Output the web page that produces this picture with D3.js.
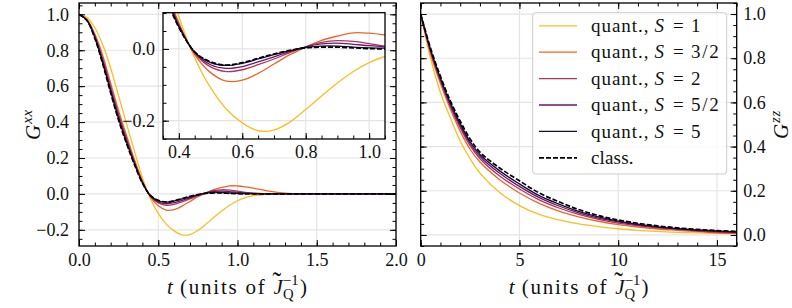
<!DOCTYPE html>
<html lang="en">
<head>
<meta charset="UTF-8">
<title>G^xx and G^zz correlation functions</title>
<style>
  body { margin: 0; background: #fff; }
</style>
</head>
<body>
<svg id="chart" width="792" height="308"></svg>

<script src="https://cdn.jsdelivr.net/npm/d3@7"></script>
<script>
// ---- data ----
// left panel: G^xx against t
const tXX = [0, 0.05, 0.1, 0.15, 0.2, 0.25, 0.3, 0.35, 0.4, 0.45, 0.5, 0.55, 0.6, 0.65, 0.7,
             0.75, 0.8, 0.85, 0.9, 0.95, 1.0, 1.05, 1.1, 1.2, 1.3, 1.4, 1.6, 1.8, 2.0];
const gxxS1  = [1.0, 0.982, 0.925, 0.83, 0.70, 0.545, 0.39, 0.238, 0.09, -0.025, -0.108, -0.168, -0.206, -0.228, -0.226,
                -0.204, -0.169, -0.131, -0.095, -0.063, -0.038, -0.021, -0.010, -0.002, 0, 0, 0, 0, 0];
const gxxS32 = [1.0, 0.972, 0.89, 0.77, 0.615, 0.464, 0.325, 0.19, 0.073, -0.016, -0.066, -0.09, -0.087, -0.068, -0.042,
                -0.016, 0.005, 0.024, 0.036, 0.045, 0.044, 0.039, 0.032, 0.015, 0.004, 0, 0, 0, 0];
const gxxS2  = [1.0, 0.969, 0.881, 0.752, 0.595, 0.444, 0.308, 0.18, 0.068, -0.012, -0.05, -0.063, -0.058, -0.044, -0.028,
                -0.01, 0.006, 0.018, 0.023, 0.021, 0.015, 0.008, 0.004, 0.001, 0, 0, 0, 0, 0];
const gxxS52 = [1.0, 0.968, 0.875, 0.74, 0.582, 0.43, 0.297, 0.173, 0.065, -0.01, -0.044, -0.054, -0.049, -0.036, -0.022,
                -0.007, 0.006, 0.014, 0.016, 0.013, 0.009, 0.006, 0.003, 0, 0, 0, 0, 0, 0];
const gxxS5  = [1.0, 0.966, 0.87, 0.73, 0.57, 0.418, 0.287, 0.168, 0.062, -0.009, -0.038, -0.046, -0.04, -0.028, -0.016,
                -0.005, 0.004, 0.008, 0.008, 0.005, 0.003, 0.002, 0.001, 0, 0, 0, 0, 0, 0];
const gxxClass = [1.0, 0.965, 0.866, 0.722, 0.562, 0.41, 0.28, 0.163, 0.06, -0.008, -0.036, -0.045, -0.038, -0.026, -0.014,
                -0.004, 0.003, 0.005, 0.005, 0.003, 0.001, 0, 0, 0, 0, 0, 0, 0, 0];

// right panel: G^zz against t
const tZZ = [0, 0.5, 1, 1.5, 2, 2.5, 3, 4, 5, 6, 7, 8, 9, 10, 11, 12, 13, 14, 15, 16];
const gzzS1  = [1, 0.8, 0.645, 0.53, 0.425, 0.345, 0.28, 0.192, 0.133, 0.093, 0.068, 0.05, 0.038, 0.028, 0.021, 0.016, 0.012, 0.009, 0.007, 0.006];
const gzzS32 = [1, 0.82, 0.685, 0.57, 0.47, 0.388, 0.33, 0.25, 0.19, 0.143, 0.108, 0.082, 0.062, 0.047, 0.036, 0.027, 0.021, 0.015, 0.01, 0.007];
const gzzS2  = [1, 0.828, 0.697, 0.582, 0.485, 0.404, 0.345, 0.267, 0.208, 0.159, 0.122, 0.093, 0.071, 0.054, 0.042, 0.032, 0.025, 0.018, 0.013, 0.01];
const gzzS52 = [1, 0.834, 0.704, 0.59, 0.495, 0.414, 0.355, 0.279, 0.22, 0.169, 0.131, 0.1, 0.076, 0.059, 0.045, 0.035, 0.027, 0.021, 0.016, 0.012];
const gzzS5  = [1, 0.839, 0.71, 0.598, 0.504, 0.423, 0.364, 0.29, 0.231, 0.178, 0.14, 0.107, 0.082, 0.063, 0.049, 0.037, 0.029, 0.023, 0.018, 0.014];
const gzzClass = [1, 0.845, 0.718, 0.607, 0.515, 0.435, 0.375, 0.303, 0.245, 0.19, 0.15, 0.115, 0.088, 0.068, 0.053, 0.041, 0.032, 0.025, 0.02, 0.016];

const spinLabels = ['1', '3/2', '2', '5/2', '5'];

// ---- styling ----
const FS = 18;      // tick labels
const LFS = 19;     // legend
const AFS = 21;     // axis labels
const colors = [0.85, 0.66, 0.48, 0.3, 0.1].map(d3.interpolateInferno);
const gridColor = '#e4e4e4';

// first serif face that is really installed
function pickFont(list) {
  const ctx = document.createElement('canvas').getContext('2d');
  const probe = 'quant., units of 0123456789 mmwwii';
  const w = f => { ctx.font = '40px ' + f; return ctx.measureText(probe).width; };
  const m = w('monospace'), s = w('sans-serif');
  for (const f of list) {
    if (w(`"${f}", monospace`) !== m || w(`"${f}", sans-serif`) !== s) return `"${f}", serif`;
  }
  return 'serif';
}
const fontFamily = pickFont(['Liberation Serif', 'DejaVu Serif', 'Noto Serif', 'Times New Roman', 'FreeSerif']);

const svg = d3.select('#chart').style('font-family', fontFamily);
const line = (x, y) => d3.line().x(d => x(d[0])).y(d => y(d[1])).curve(d3.curveCatmullRom.alpha(0.5));
const zip = (ts, vs) => ts.map((t, i) => [t, vs[i]]);
const range = (a, b, s) => d3.range(Math.round((b - a) / s) + 1).map(i => +(a + i * s).toFixed(4));

// stretch a text to a width by letter spacing
function fitWidth(sel, target) {
  const node = sel.node();
  const n = node.textContent.length;
  const w = node.getBBox().width;
  if (n > 1) sel.style('letter-spacing', ((target - w) / (n - 1)).toFixed(2) + 'px');
}

const xxSeries = [gxxS1, gxxS32, gxxS2, gxxS52, gxxS5];
const zzSeries = [gzzS1, gzzS32, gzzS2, gzzS52, gzzS5];

// draws grid, curves, frame and inward ticks of one panel
function panel(cfg) {
  const { x, y, id } = cfg;
  const [x0, x1] = x.range(), [y0, y1] = y.range();
  const g = svg.append('g');

  g.append('rect').attr('x', x0).attr('y', y1).attr('width', x1 - x0).attr('height', y0 - y1).attr('fill', '#fff');
  svg.append('clipPath').attr('id', id).append('rect')
    .attr('x', x0).attr('y', y1).attr('width', x1 - x0).attr('height', y0 - y1);

  // grid
  g.append('g').selectAll('line').data(cfg.xMajor).join('line')
    .attr('x1', d => x(d)).attr('x2', d => x(d)).attr('y1', y1).attr('y2', y0)
    .attr('stroke', gridColor).attr('stroke-width', 1.2);
  g.append('g').selectAll('line').data(cfg.yMajor).join('line')
    .attr('y1', d => y(d)).attr('y2', d => y(d)).attr('x1', x0).attr('x2', x1)
    .attr('stroke', gridColor).attr('stroke-width', 1.2);

  // curves
  const lg = g.append('g').attr('clip-path', `url(#${id})`);
  cfg.series.forEach((vs, i) => {
    lg.append('path').datum(zip(cfg.t, vs)).attr('d', line(x, y))
      .attr('fill', 'none').attr('stroke', colors[i]).attr('stroke-width', 1.3);
  });
  lg.append('path').datum(zip(cfg.t, cfg.cls)).attr('d', line(x, y))
    .attr('fill', 'none').attr('stroke', '#000').attr('stroke-width', 1.7)
    .attr('stroke-dasharray', '5,2');

  // ticks
  const sides = [
    ['bottom', d3.axisBottom, x, 'translate(0,' + y0 + ')'],
    ['top', d3.axisTop, x, 'translate(0,' + y1 + ')'],
    ['left', d3.axisLeft, y, 'translate(' + x0 + ',0)'],
    ['right', d3.axisRight, y, 'translate(' + x1 + ',0)']
  ];
  sides.forEach(([side, axisFn, sc, tr]) => {
    if (!cfg.tickSides.includes(side)) return;
    const horiz = side === 'bottom' || side === 'top';
    const major = horiz ? cfg.xMajor : cfg.yMajor;
    const minor = horiz ? cfg.xMinor : cfg.yMinor;
    const labelled = cfg.labelSides.includes(side);
    const fmt = horiz ? cfg.xFmt : cfg.yFmt;
    const pad = horiz ? cfg.xPad : cfg.yPad;
    const mn = g.append('g').attr('transform', tr)
      .call(axisFn(sc).tickValues(minor).tickSize(-3.5).tickFormat(''));
    const mj = g.append('g').attr('transform', tr)
      .call(axisFn(sc).tickValues(major).tickSize(-6).tickPadding(pad)
        .tickFormat(labelled ? fmt : ''));
    [mn, mj].forEach(a => {
      a.attr('font-family', null);
      a.select('.domain').remove();
      a.selectAll('.tick line').attr('stroke', '#000').attr('stroke-width', 1);
      a.selectAll('text').attr('font-size', FS).attr('fill', '#111');
    });
  });

  g.append('rect').attr('x', x0).attr('y', y1).attr('width', x1 - x0).attr('height', y0 - y1)
    .attr('fill', 'none').attr('stroke', '#000').attr('stroke-width', 1.3);
  return g;
}

const f1 = d3.format('.1f');

// left panel
const xL = d3.scaleLinear([0, 2], [79, 396]);
const yL = d3.scaleLinear([-0.29, 1.063], [246, 3]);
panel({
  id: 'clipL', x: xL, y: yL, t: tXX, series: xxSeries, cls: gxxClass,
  xMajor: range(0, 2, 0.5), xMinor: range(0, 2, 0.1),
  yMajor: range(-0.2, 1.0, 0.2), yMinor: range(-0.25, 1.05, 0.05),
  tickSides: ['bottom', 'top', 'left', 'right'], labelSides: ['bottom', 'left'],
  xFmt: f1, yFmt: f1, xPad: 7, yPad: 10
});

// inset of the left panel
const xI = d3.scaleLinear([0.35, 1.05], [163, 385]);
const yI = d3.scaleLinear([-0.251, 0.101], [139, 12.7]);
panel({
  id: 'clipI', x: xI, y: yI, t: tXX, series: xxSeries, cls: gxxClass,
  xMajor: range(0.4, 1.0, 0.2), xMinor: range(0.35, 1.05, 0.05),
  yMajor: [-0.2, 0.0], yMinor: range(-0.25, 0.1, 0.05),
  tickSides: ['bottom', 'left'], labelSides: ['bottom', 'left'],
  xFmt: f1, yFmt: f1, xPad: 6, yPad: 8
});

// right panel
const xR = d3.scaleLinear([0, 16], [420.7, 736.7]);
const yR = d3.scaleLinear([-0.05, 1.05], [246, 3]);
panel({
  id: 'clipR', x: xR, y: yR, t: tZZ, series: zzSeries, cls: gzzClass,
  xMajor: [0, 5, 10, 15], xMinor: range(0, 16, 1),
  yMajor: range(0, 1.0, 0.2), yMinor: range(-0.05, 1.05, 0.05),
  tickSides: ['bottom', 'top', 'left', 'right'], labelSides: ['bottom', 'right'],
  xFmt: d3.format('d'), yFmt: f1, xPad: 7, yPad: 6.5
});

// ---- axis labels ----
function xLabel(cx, yBase, width) {
  const F = AFS;
  const t = svg.append('text').attr('y', yBase).attr('font-size', F).attr('fill', '#111');
  t.append('tspan').attr('font-style', 'italic').text('t');
  const mid = t.append('tspan').text(' (units of ');
  t.append('tspan').attr('font-style', 'italic').text('J');
  t.append('tspan').attr('dx', -0.5 * F).attr('dy', -0.16 * F).attr('font-size', 1.25 * F).text('˜');
  t.append('tspan').attr('font-size', 0.7 * F).attr('dx', 0.08 * F).attr('dy', 0.16 * F + 0.22 * F).text('Q');
  t.append('tspan').attr('font-size', 0.7 * F).attr('dx', -0.5 * F).attr('dy', -0.64 * F).text('−1');
  t.append('tspan').attr('dx', 0.06 * F).attr('dy', 0.42 * F).text(')');
  const natural = mid.node().getComputedTextLength();
  const n = mid.node().textContent.length;
  mid.style('letter-spacing', ((width - t.node().getBBox().width) / (n - 1)).toFixed(2) + 'px');
  const b = t.node().getBBox();
  t.attr('x', cx - b.width / 2);
}
xLabel(237, 294, 138);
xLabel(578.7, 294, 138);

function yLabel(cx, cy, sup) {
  const F = AFS;
  const t = svg.append('text').attr('font-size', F).attr('text-anchor', 'middle').attr('fill', '#111')
    .attr('transform', `translate(${cx},${cy}) rotate(-90)`).attr('dy', '0.35em');
  t.append('tspan').attr('font-style', 'italic').text('G');
  t.append('tspan').attr('font-style', 'italic').attr('font-size', 0.7 * F)
    .attr('dx', 1).attr('dy', -0.42 * F).style('letter-spacing', '0.8px').text(sup);
}
yLabel(33, 124.5, 'xx');
yLabel(781, 124.5, 'zz');

// ---- legend ----
const leg = svg.append('g').attr('font-size', LFS).attr('fill', '#111');
leg.append('rect').attr('x', 532.7).attr('y', 12.7).attr('width', 194).attr('height', 161.3)
  .attr('rx', 3).attr('fill', '#fff').attr('fill-opacity', 0.8)
  .attr('stroke', '#cccccc').attr('stroke-width', 1);
const rowY = i => 25.8 + i * 26.4;
const textX = 591;
const entries = spinLabels.map((s, i) => ({ s, color: colors[i], dash: null }))
  .concat([{ s: null, color: '#000', dash: '5,2' }]);
entries.forEach((e, i) => {
  const yy = rowY(i);
  leg.append('line').attr('x1', 539).attr('x2', 577).attr('y1', yy).attr('y2', yy)
    .attr('stroke', e.color).attr('stroke-width', e.dash ? 1.7 : 1.3)
    .attr('stroke-dasharray', e.dash);
  const txt = (x, s) => leg.append('text').attr('x', x).attr('y', yy).attr('dy', '0.33em').text(s);
  if (e.s === null) { fitWidth(txt(textX, 'class.'), 42.5); return; }
  fitWidth(txt(textX, 'quant.,'), 57.4);
  txt(textX + 63.6, 'S').attr('font-style', 'italic');
  txt(textX + 87.4, '=').attr('text-anchor', 'middle');
  txt(textX + 99.9, e.s).style('letter-spacing', '1.8px');
});
</script>
</body>
</html>
